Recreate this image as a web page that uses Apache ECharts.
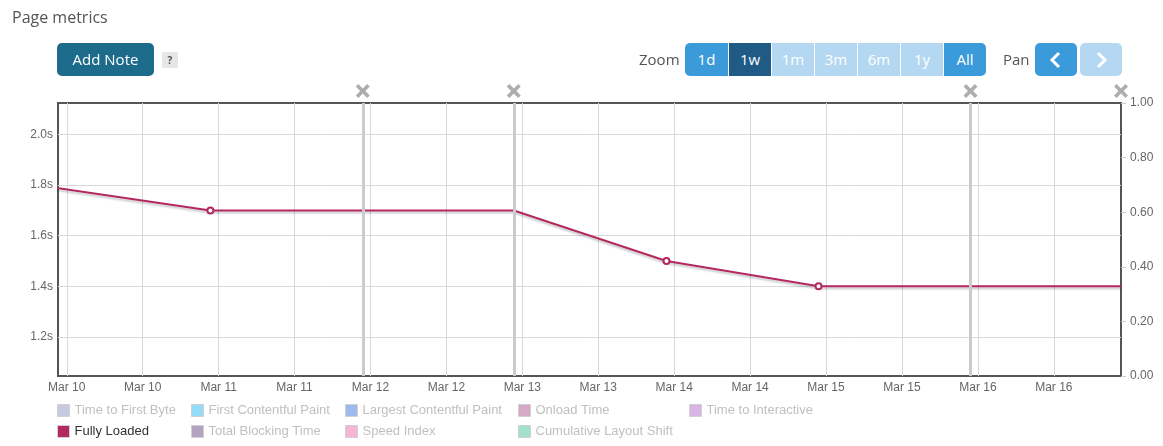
<!DOCTYPE html>
<html>
<head>
<meta charset="utf-8">
<title>Page metrics</title>
<script src="https://cdn.jsdelivr.net/npm/echarts@6/dist/echarts.min.js"></script>
<style>
html, body { margin: 0; padding: 0; background: #fff; }
#wrap { position: relative; width: 1163px; height: 446px; overflow: hidden; font-family: "Open Sans", sans-serif; }
#chart { position: absolute; left: 0; top: 0; width: 1163px; height: 446px; }
.title { position: absolute; left: 12px; top: 6px; font-size: 16px; color: #555; line-height: 22px; }
.btn { position: absolute; top: 43px; height: 33px; line-height: 33px; color: #fff; font-size: 15px; text-align: center; box-sizing: border-box; }
.add-note { left: 57px; width: 97px; background: #1d6b8b; border-radius: 5px; }
.help { position: absolute; left: 162px; top: 52px; width: 16px; height: 16px; line-height: 16px; background: #e6e6e6; border-radius: 2px; color: #555; font-size: 10px; font-weight: bold; text-align: center; }
.lbl { position: absolute; top: 43px; height: 33px; line-height: 33px; font-size: 15px; color: #555; }
.zoom-group { position: absolute; left: 685px; top: 43px; height: 33px; display: flex; border-radius: 5px; overflow: hidden; }
.zoom-group div { width: 43px; height: 33px; line-height: 33px; color: #fff; font-size: 15px; text-align: center; box-sizing: border-box; border-left: 1px solid #fff; }
.zoom-group div:first-child { border-left: none; }
.on { background: #3b9ad9; }
.cur { background: #1f5b85; }
.off { background: #b4d8f2; }
.pan { position: absolute; top: 43px; height: 33px; width: 42px; border-radius: 5px; display: flex; align-items: center; justify-content: center; }
</style>
</head>
<body>
<div id="wrap">
  <div id="chart"></div>
  <div class="title">Page metrics</div>
  <div class="btn add-note">Add Note</div>
  <div class="help">?</div>
  <div class="lbl" style="left:639px">Zoom</div>
  <div class="zoom-group">
    <div class="on">1d</div><div class="cur">1w</div><div class="off">1m</div><div class="off">3m</div><div class="off">6m</div><div class="off">1y</div><div class="on">All</div>
  </div>
  <div class="lbl" style="left:1003px">Pan</div>
  <div class="pan on" style="left:1035px"><svg width="14" height="18" viewBox="0 0 14 18"><polyline points="10,2 3,9 10,16" fill="none" stroke="#fff" stroke-width="3"/></svg></div>
  <div class="pan off" style="left:1080px"><svg width="14" height="18" viewBox="0 0 14 18"><polyline points="4,2 11,9 4,16" fill="none" stroke="#fff" stroke-width="3"/></svg></div>
</div>
<script>
// legend order / colours
const metricNames = [
  'Time to First Byte', 'First Contentful Paint', 'Largest Contentful Paint', 'Onload Time',
  'Time to Interactive', 'Fully Loaded', 'Total Blocking Time', 'Speed Index', 'Cumulative Layout Shift'
]
const metricColors = [
  '#c5cae2', '#94dcf7', '#9eb9ee', '#d5aac4',
  '#dab4e6', '#b3285f', '#b5a4c0', '#f8b4d4', '#a4e1cd'
]
const activeMetric = 'Fully Loaded'

// fully loaded (seconds)
const fullyTimes = [
  '2024-03-09T22:00', '2024-03-10T22:42', '2024-03-11T22:47', '2024-03-12T22:39',
  '2024-03-13T22:47', '2024-03-14T22:49', '2024-03-15T22:50', '2024-03-16T22:37'
]
const fullyValues = [1.79, 1.7, 1.7, 1.7, 1.5, 1.4, 1.4, 1.4]

// notes
const noteTimes = ['2024-03-11T22:47', '2024-03-12T22:39', '2024-03-15T22:50', '2024-03-16T22:37']

// axes
const xRange = ['2024-03-09T22:37', '2024-03-16T22:37']
const xTicks = [
  '2024-03-10T00:00', '2024-03-10T12:00', '2024-03-11T00:00', '2024-03-11T12:00',
  '2024-03-12T00:00', '2024-03-12T12:00', '2024-03-13T00:00', '2024-03-13T12:00',
  '2024-03-14T00:00', '2024-03-14T12:00', '2024-03-15T00:00', '2024-03-15T12:00',
  '2024-03-16T00:00', '2024-03-16T12:00'
]
const monthNames = ['Jan', 'Feb', 'Mar', 'Apr', 'May', 'Jun', 'Jul', 'Aug', 'Sep', 'Oct', 'Nov', 'Dec']
const leftRange = [1.045, 2.125]
const leftTicks = [1.2, 1.4, 1.6, 1.8, 2.0]
const rightRange = [0, 1]

const legendColumns = [
  ['Time to First Byte', 'Fully Loaded'],
  ['First Contentful Paint', 'Total Blocking Time'],
  ['Largest Contentful Paint', 'Speed Index'],
  ['Onload Time', 'Cumulative Layout Shift'],
  ['Time to Interactive']
]
const legendLefts = [57, 191, 345, 518, 689]

const ts = (s) => new Date(s).getTime()
const labelFont = { fontFamily: '"Liberation Sans", Arial, sans-serif', fontSize: 12, color: '#666' }
const lineColor = '#b3285f'
const noteIcon = 'path://M0,2.6 L2.6,0 L7,4.4 L11.4,0 L14,2.6 L9.6,7 L14,11.4 L11.4,14 L7,9.6 L2.6,14 L0,11.4 L4.4,7 Z'

const chart = echarts.init(document.getElementById('chart'))

const otherSeries = metricNames
  .filter((n) => n !== activeMetric)
  .map((n) => ({ name: n, type: 'line', data: [], color: metricColors[metricNames.indexOf(n)] }))

const option = {
  animation: false,
  grid: { left: 58, right: 42, top: 103, bottom: 70, show: true, borderColor: '#555', borderWidth: 2, backgroundColor: 'transparent' },
  legend: legendColumns.map((col, i) => ({
    orient: 'vertical',
    left: legendLefts[i],
    top: 404,
    padding: 0,
    itemWidth: 12,
    itemHeight: 12,
    itemGap: 8,
    selectedMode: false,
    icon: 'rect',
    itemStyle: { borderColor: '#d0d0d0', borderWidth: 1 },
    textStyle: { fontFamily: '"Liberation Sans", Arial, sans-serif', fontSize: 13, lineHeight: 12 },
    data: col.map((n) => ({ name: n, textStyle: { color: n === activeMetric ? '#333' : '#c0c0c0' } }))
  })),
  xAxis: {
    type: 'value',
    min: ts(xRange[0]),
    max: ts(xRange[1]),
    axisLine: { show: false },
    axisTick: { show: false, customValues: xTicks.map(ts) },
    axisLabel: {
      ...labelFont,
      margin: 6,
      customValues: xTicks.map(ts),
      formatter: (v) => {
        const d = new Date(v)
        return monthNames[d.getMonth()] + ' ' + d.getDate()
      }
    },
    splitLine: { show: true, lineStyle: { color: '#d9d9d9', width: 1 } }
  },
  yAxis: [
    {
      type: 'value',
      min: leftRange[0],
      max: leftRange[1],
      axisLine: { show: false },
      axisTick: { show: false, customValues: leftTicks },
      axisLabel: { ...labelFont, margin: 5, customValues: leftTicks, formatter: (v) => v.toFixed(1) + 's' },
      splitLine: { show: true, lineStyle: { color: '#d9d9d9', width: 1 } }
    },
    {
      type: 'value',
      position: 'right',
      min: rightRange[0],
      max: rightRange[1],
      interval: 0.2,
      axisLine: { show: false },
      axisTick: { show: true, length: 5, lineStyle: { color: '#ccc' } },
      axisLabel: { ...labelFont, margin: 9, formatter: (v) => v.toFixed(2) },
      splitLine: { show: false }
    }
  ],
  series: [
    ...otherSeries,
    {
      name: 'notes',
      type: 'scatter',
      z: 1,
      clip: false,
      silent: true,
      symbol: noteIcon,
      symbolSize: 14,
      symbolOffset: [0, -12],
      itemStyle: { color: '#999' },
      data: noteTimes.map((t) => [ts(t), leftRange[1]]),
      markLine: {
        silent: true,
        symbol: ['none', 'none'],
        label: { show: false },
        lineStyle: { color: '#cbcbcb', width: 3, type: 'solid' },
        // a note sitting on the right edge is hidden behind the plot border
        data: noteTimes.filter((t) => ts(t) < ts(xRange[1])).map((t) => ({ xAxis: ts(t) }))
      }
    },
    {
      name: activeMetric,
      type: 'line',
      z: 3,
      color: lineColor,
      showSymbol: true,
      showAllSymbol: true,
      symbolSize: 6,
      lineStyle: { color: lineColor, width: 2, shadowColor: 'rgba(0,0,0,0.22)', shadowBlur: 2, shadowOffsetY: 2 },
      itemStyle: { color: lineColor, borderColor: lineColor, borderWidth: 2 },
      data: fullyTimes.map((t, i) => ({
        value: [ts(t), fullyValues[i]],
        symbol: noteTimes.includes(t) ? 'none' : 'emptyCircle'
      }))
    }
  ]
}

chart.setOption(option)
</script>
</body>
</html>
